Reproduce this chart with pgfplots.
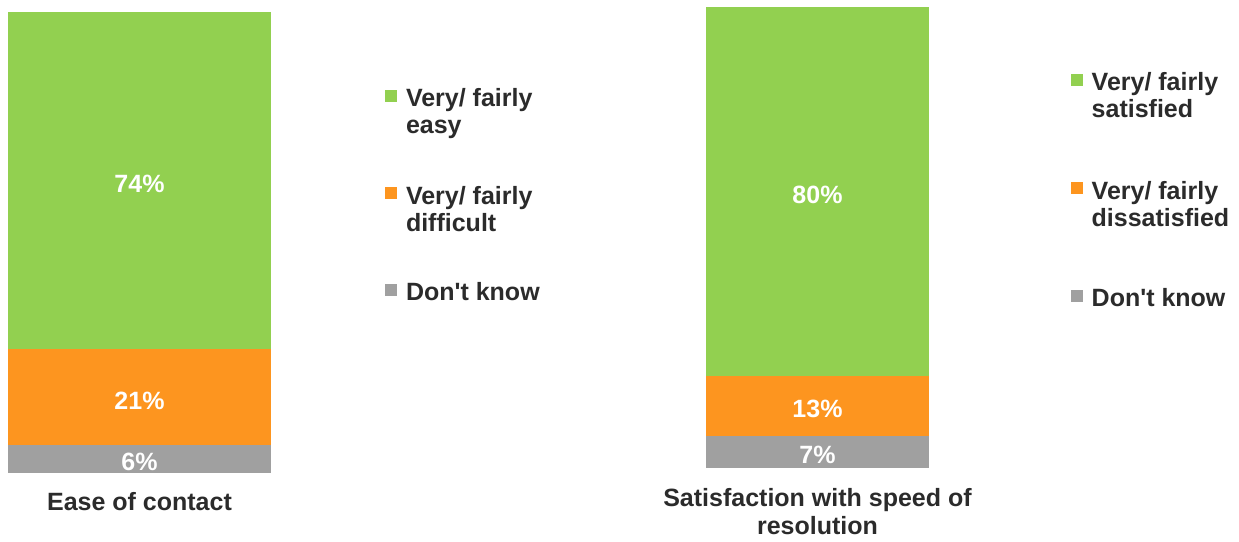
\documentclass[border=0pt]{standalone}
\usepackage{fontspec}
\setmainfont{Liberation Sans}
\usepackage{pgfplots}
\pgfplotsset{compat=1.18}
\definecolor{cgreen}{HTML}{92D050}
\definecolor{corange}{HTML}{FD951F}
\definecolor{cgray}{HTML}{A0A0A0}
\definecolor{ctext}{HTML}{2B2B2B}

\pgfplotsset{
  onebar/.style={
    ybar stacked, scale only axis, xmin=-0.5, xmax=0.5, ymin=0,
    axis line style={draw=none}, xtick=\empty, ytick=\empty,
    enlargelimits=false, clip=false,
    nodes near coords, point meta=explicit symbolic,
    nodes near coords align={center},
    every node near coord/.append style={anchor=center, text=white,
      font=\fontsize{25}{27}\selectfont\bfseries, yshift=-3pt},
    reverse legend,
    legend image code/.code={\fill[##1] (0pt,5pt) rectangle (12pt,17pt);},
    legend style={draw=none, fill=none, inner sep=0pt, outer sep=0pt,
      anchor=north west, column sep=9pt, cells={anchor=base west},
      nodes={inner sep=0pt, text=ctext, font=\fontsize{25}{27}\selectfont\bfseries}},
    xlabel style={at={(axis description cs:0.5,0)}, anchor=base, inner sep=0pt,
      text=ctext, font=\fontsize{25}{28}\selectfont\bfseries},
  }
}

\begin{document}
\begin{tikzpicture}
\useasboundingbox (0pt,0pt) rectangle (1239pt,541pt);

% ease of contact
\begin{axis}[onebar, at={(8pt,68.3pt)}, anchor=south west,
  width=263pt, height=461pt, ymax=101, bar width=263pt,
  legend style={at={(axis description cs:1.4335,0.8345)}, row sep=77pt},
  xlabel={Ease of contact}, xlabel style={yshift=-37.3pt}]
\addplot[fill=cgray, draw=none] coordinates {(0,6) [6\%]};
\addplot[fill=corange, draw=none] coordinates {(0,21) [21\%]};
\addplot[fill=cgreen, draw=none] coordinates {(0,74) [74\%]};
\addlegendentry{Don\textquotesingle t know}
\addlegendentry{\parbox[t]{150pt}{\strut Very/ fairly\\difficult\strut}}
\addlegendentry{\parbox[t]{150pt}{\strut Very/ fairly\\easy\strut}}
\end{axis}

% speed of resolution
\begin{axis}[onebar, at={(706pt,72.7pt)}, anchor=south west,
  width=223pt, height=461pt, ymax=100, bar width=223pt,
  legend style={at={(axis description cs:1.6354,0.8599)}, row sep=88pt},
  xlabel={\parbox[t]{340pt}{\centering Satisfaction with speed of\\resolution}},
  xlabel style={yshift=-38.4pt}]
\addplot[fill=cgray, draw=none] coordinates {(0,7) [7\%]};
\addplot[fill=corange, draw=none] coordinates {(0,13) [13\%]};
\addplot[fill=cgreen, draw=none] coordinates {(0,80) [80\%]};
\addlegendentry{Don\textquotesingle t know}
\addlegendentry{\parbox[t]{170pt}{\strut Very/ fairly\\dissatisfied\strut}}
\addlegendentry{\parbox[t]{170pt}{\strut Very/ fairly\\satisfied\strut}}
\end{axis}
\end{tikzpicture}
\end{document}
